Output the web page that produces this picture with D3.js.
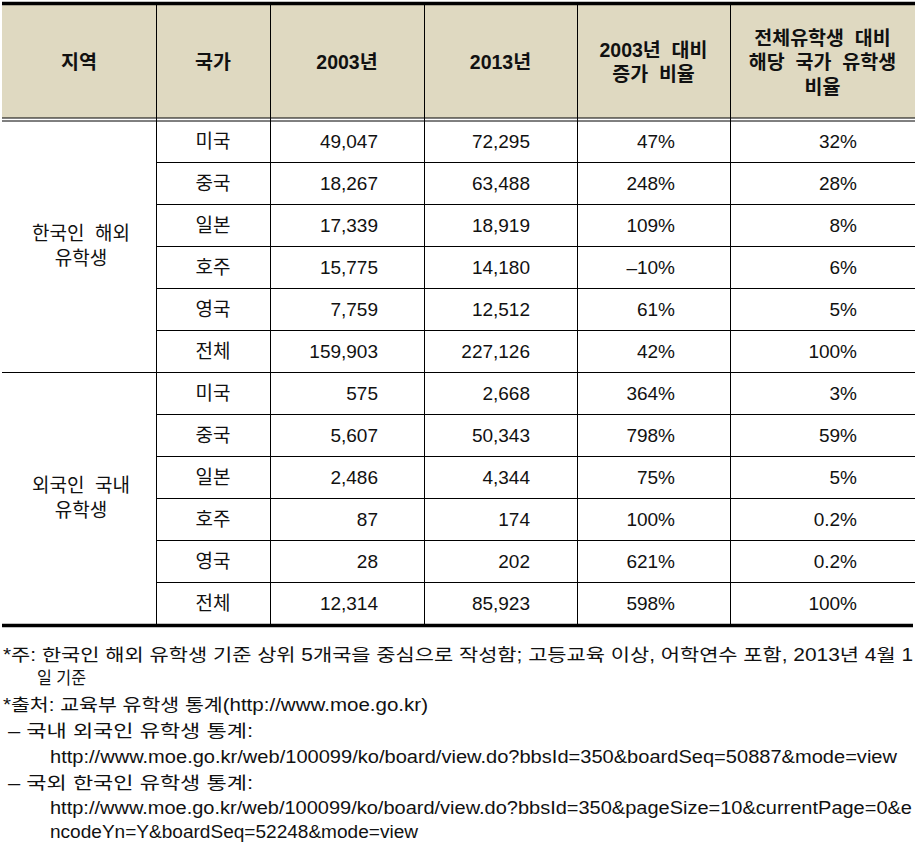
<!DOCTYPE html>
<html><head><meta charset="utf-8">
<script src="https://cdn.jsdelivr.net/npm/d3@7"></script>
<style>body{margin:0;background:#fff}svg{display:block}</style>
</head><body>
<script>
const headers = [["지역"],["국가"],["2003년"],["2013년"],["2003년  대비","증가  비율"],["전체유학생  대비","해당  국가  유학생","비율"]];
const regions = [["한국인  해외","유학생"],["외국인  국내","유학생"]];
const countries = ["미국","중국","일본","호주","영국","전체"];
const y2003 = [[49047,18267,17339,15775,7759,159903],[575,5607,2486,87,28,12314]];
const y2013 = [[72295,63488,18919,14180,12512,227126],[2668,50343,4344,174,202,85923]];
const increase = [["47%","248%","109%","–10%","61%","42%"],["364%","798%","75%","100%","621%","598%"]];
const share = [["32%","28%","8%","6%","5%","100%"],["3%","59%","5%","0.2%","0.2%","100%"]];
const notes = [
 "*주: 한국인 해외 유학생 기준 상위 5개국을 중심으로 작성함; 고등교육 이상, 어학연수 포함, 2013년 4월 1",
 "일 기준",
 "*출처: 교육부 유학생 통계(http://www.moe.go.kr)",
 "– 국내 외국인 유학생 통계:",
 "http://www.moe.go.kr/web/100099/ko/board/view.do?bbsId=350&boardSeq=50887&mode=view",
 "– 국외 한국인 유학생 통계:",
 "http://www.moe.go.kr/web/100099/ko/board/view.do?bbsId=350&pageSize=10&currentPage=0&e",
 "ncodeYn=Y&boardSeq=52248&mode=view"
];

// layout
const W=921,H=843;
const colEdges=[2,156,270,424,577,730,915];
const rightPad=[0,0,46,47,55,58];
const font='"Liberation Sans","Noto Sans CJK KR",sans-serif';
const fs=19;
const svg=d3.select("body").append("svg").attr("width",W).attr("height",H);

const rows=d3.range(12);
const yRow=d3.scaleBand().domain(rows).range([120,624]);
const fmt=d3.format(",");

// header background
svg.append("rect").attr("x",colEdges[0]).attr("y",5).attr("width",colEdges[6]-colEdges[0]).attr("height",113).attr("fill","#dfd9c1");

// header text
const lh=24.5;
headers.forEach((lines,i)=>{
  const cx=(colEdges[i]+colEdges[i+1])/2;
  const cy=62;
  const t=svg.append("text").attr("x",cx).attr("text-anchor","middle").attr("font-family",font).attr("font-size",19.5).attr("font-weight","bold").attr("fill","#111");
  lines.forEach((l,j)=>{
    t.append("tspan").attr("x",cx).attr("y",cy+(j-(lines.length-1)/2)*lh).attr("dy","0.36em").style("white-space","pre").text(l);
  });
});

// region labels
regions.forEach((lines,g)=>{
  const y0=yRow(g*6), y1=yRow(g*6+5)+yRow.bandwidth();
  const cy=(y0+y1)/2;
  const cx=(colEdges[0]+colEdges[1])/2+2;
  const t=svg.append("text").attr("text-anchor","middle").attr("font-family",font).attr("font-size",fs).attr("fill","#111");
  lines.forEach((l,j)=>{
    t.append("tspan").attr("x",cx).attr("y",cy+(j-0.5)*25).attr("dy","0.36em").style("white-space","pre").text(l);
  });
});

// body cells
const cells=[];
[0,1].forEach(g=>{
  countries.forEach((c,i)=>{
    const r=g*6+i;
    cells.push({r,col:1,text:c,anchor:"middle"});
    cells.push({r,col:2,text:fmt(y2003[g][i]),anchor:"end"});
    cells.push({r,col:3,text:fmt(y2013[g][i]),anchor:"end"});
    cells.push({r,col:4,text:increase[g][i],anchor:"end"});
    cells.push({r,col:5,text:share[g][i],anchor:"end"});
  });
});
svg.append("g").selectAll("text").data(cells).join("text")
  .attr("x",d=>d.anchor==="middle"?(colEdges[d.col]+colEdges[d.col+1])/2:colEdges[d.col+1]-rightPad[d.col])
  .attr("y",d=>yRow(d.r)+yRow.bandwidth()/2).attr("dy","0.36em")
  .attr("text-anchor",d=>d.anchor).attr("font-family",font).attr("font-size",fs).attr("fill","#111")
  .text(d=>d.text);

// lines
const L=svg.append("g").attr("stroke","#000").attr("fill","none");
L.append("line").attr("x1",colEdges[0]).attr("x2",colEdges[6]).attr("y1",3.5).attr("y2",3.5).attr("stroke-width",3.5);
L.append("line").attr("x1",colEdges[0]).attr("x2",colEdges[6]).attr("y1",118).attr("y2",118).attr("stroke-width",1);
L.append("line").attr("x1",colEdges[0]).attr("x2",colEdges[6]).attr("y1",121).attr("y2",121).attr("stroke-width",1);
rows.forEach(r=>{
  if(r===0||r===6) return;
  L.append("line").attr("x1",colEdges[1]).attr("x2",colEdges[6]).attr("y1",yRow(r)+0.5).attr("y2",yRow(r)+0.5).attr("stroke-width",1);
});
L.append("line").attr("x1",colEdges[0]).attr("x2",colEdges[6]).attr("y1",yRow(6)+0.5).attr("y2",yRow(6)+0.5).attr("stroke-width",1);
const yb=yRow(11)+yRow.bandwidth();
L.append("line").attr("x1",colEdges[0]).attr("x2",colEdges[6]-2).attr("y1",yb+1.5).attr("y2",yb+1.5).attr("stroke-width",3.5);
colEdges.slice(1,6).forEach(x=>{
  L.append("line").attr("x1",x+0.5).attr("x2",x+0.5).attr("y1",5).attr("y2",yb).attr("stroke-width",1);
});

// notes
const noteX=[3,37,3,8,50,8,50,50];
const noteW=[910,49,425,245,847,245,862,368];
const noteY=[655,678,705,731,757,783,808,832];
svg.append("g").selectAll("text").data(notes).join("text")
  .attr("x",(d,i)=>noteX[i]).attr("y",(d,i)=>noteY[i]).attr("dy","0.36em")
  .attr("font-family",'"Liberation Sans Narrow","Liberation Sans","Noto Sans CJK KR",sans-serif').attr("font-size",17.5).attr("fill","#111")
  .attr("textLength",(d,i)=>noteW[i]).attr("lengthAdjust","spacingAndGlyphs")
  .text(d=>d);
</script>
</body></html>
